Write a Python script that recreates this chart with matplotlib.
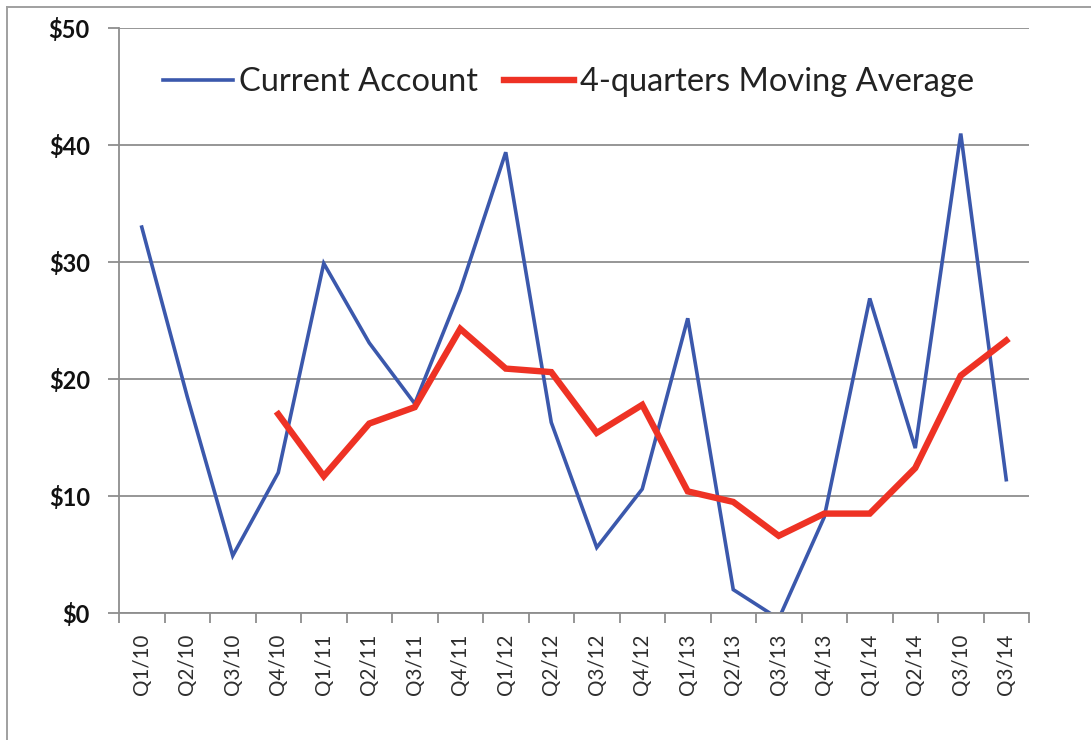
import numpy as np
import matplotlib
matplotlib.use("Agg")
import matplotlib.pyplot as plt
from matplotlib.lines import Line2D

plt.rcParams['font.family'] = ['Lato', 'DejaVu Sans']

categories = ["Q1/10", "Q2/10", "Q3/10", "Q4/10", "Q1/11", "Q2/11", "Q3/11", "Q4/11",
              "Q1/12", "Q2/12", "Q3/12", "Q4/12", "Q1/13", "Q2/13", "Q3/13", "Q4/13",
              "Q1/14", "Q2/14", "Q3/10", "Q3/14"]
current_account = [33.0, 18.5, 4.9, 12.0, 29.9, 23.1, 17.9, 27.6, 39.4, 16.3,
                   5.6, 10.6, 25.2, 2.0, -0.5, 8.2, 26.9, 14.1, 41.0, 11.4]
moving_average = [np.nan, np.nan, np.nan, 17.0, 11.7, 16.2, 17.6, 24.3, 20.9, 20.6,
                  15.4, 17.8, 10.4, 9.5, 6.6, 8.5, 8.5, 12.4, 20.3, 23.3]
y_ticks = [0, 10, 20, 30, 40, 50]
y_labels = ["$0", "$10", "$20", "$30", "$40", "$50"]

W, H = 1091, 740
fig = plt.figure(figsize=(W / 100, H / 100), dpi=100)
left, right, top, bottom = 119, 1029, 28.3, 613
ax = fig.add_axes([left / W, (H - bottom) / H, (right - left) / W, (bottom - top) / H])

grid_color = '#8e8e8e'
x = np.arange(len(categories))
ax.plot(x, current_account, color='#3B58AC', lw=2.6, solid_joinstyle='miter',
        label='Current Account', zorder=3)
ax.plot(x, moving_average, color='#EE3224', lw=4.6, solid_joinstyle='miter',
        label='4-quarters Moving Average', zorder=4)

ax.set_xlim(-0.5, len(categories) - 0.5)
ax.set_ylim(0, 50)
ax.set_yticks(y_ticks)
ax.set_yticklabels(y_labels, fontweight='bold', fontsize=17, color='#111111')
ax.set_xticks(x)
ax.set_xticklabels(categories, rotation=90, fontsize=14.8, color='#2e2e2e')
ax.set_xticks(np.arange(-0.5, len(categories)), minor=True)
ax.tick_params(axis='x', which='major', length=0, pad=15)
ax.tick_params(axis='x', which='minor', length=7, width=1.3, color=grid_color, direction='out')
ax.tick_params(axis='y', which='major', length=8, width=1.3, color=grid_color, pad=13)

ax.yaxis.grid(True, color=grid_color, lw=1.3)
ax.set_axisbelow(True)
for s in ['top', 'right']:
    ax.spines[s].set_visible(False)
for s in ['left', 'bottom']:
    ax.spines[s].set_color(grid_color)
    ax.spines[s].set_linewidth(1.3)
ax.spines['bottom'].set_zorder(5)

ax.legend(loc='center left', bbox_to_anchor=((163 - left) / (right - left), 1 - (82 - top) / (bottom - top)),
          ncol=2, frameon=False, fontsize=23.5, handlelength=2.15, handletextpad=0.18,
          columnspacing=0.8, borderpad=0, borderaxespad=0, labelcolor='#222222')

# outer chart frame (left and top edges visible)
fig.add_artist(Line2D([7.3 / W, 7.3 / W], [0, 1 - 6.7 / H], transform=fig.transFigure,
                      color='#a0a0a0', lw=1.4))
fig.add_artist(Line2D([7.3 / W, 1], [1 - 6.7 / H, 1 - 6.7 / H], transform=fig.transFigure,
                      color='#a0a0a0', lw=1.4))

fig.savefig('out.png', dpi=100)
